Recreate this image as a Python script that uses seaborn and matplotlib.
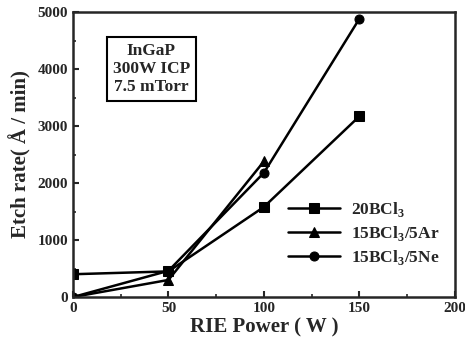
import pandas as pd
import matplotlib.pyplot as plt
import seaborn as sns

# values
power = [0, 50, 100, 150]
bcl3 = [400, 450, 1580, 3170]
bcl3_ar = [0, 300, 2380, None]
bcl3_ne = [0, 460, 2180, 4880]
labels = ["20BCl$_\\mathbf{3}$", "15BCl$_\\mathbf{3}$/5Ar", "15BCl$_\\mathbf{3}$/5Ne"]

rows = []
for lab, vals in zip(labels, [bcl3, bcl3_ar, bcl3_ne]):
    for p, v in zip(power, vals):
        if v is not None:
            rows.append({"power": p, "rate": v, "gas": lab})
df = pd.DataFrame(rows)

sns.set_style("ticks")
plt.rcParams["font.family"] = ["Liberation Serif", "DejaVu Serif"]
plt.rcParams["font.weight"] = "bold"
plt.rcParams["mathtext.fontset"] = "custom"
plt.rcParams["mathtext.bf"] = "Liberation Serif:bold"
plt.rcParams["mathtext.rm"] = "Liberation Serif:bold"

fig = plt.figure(figsize=(4.65, 3.43), dpi=100)
ax = fig.add_axes([0.157, 0.134, 0.821, 0.831])

sns.lineplot(data=df, x="power", y="rate", hue="gas", style="gas",
             markers=["s", "^", "o"], dashes=False, palette=["black"] * 3,
             markersize=6.5, linewidth=1.8, markeredgecolor="black", ax=ax)

ax.set_xlim(0, 200)
ax.set_ylim(0, 5000)
ax.set_xticks([0, 50, 100, 150, 200])
ax.set_yticks([0, 1000, 2000, 3000, 4000, 5000])
ax.set_xticks(range(25, 200, 50), minor=True)
ax.set_yticks(range(500, 5000, 1000), minor=True)
ax.tick_params(direction="in", width=1.5, length=4, labelsize=11)
ax.tick_params(which="minor", direction="in", width=1.2, length=2.5)
for lbl in ax.get_xticklabels() + ax.get_yticklabels():
    lbl.set_fontweight("bold")
for s in ax.spines.values():
    s.set_linewidth(1.8)

ax.set_xlabel("RIE Power ( W )", fontsize=15, fontweight="bold", labelpad=2)
ax.set_ylabel("Etch rate( Å / min)", fontsize=15, fontweight="bold", labelpad=4)

ax.text(0.205, 0.80, "InGaP\n300W ICP\n7.5 mTorr", transform=ax.transAxes,
        ha="center", va="center", fontsize=12.5, fontweight="bold", linespacing=1.15,
        bbox=dict(boxstyle="square,pad=0.35", facecolor="white", edgecolor="black", linewidth=1.5))

leg = ax.legend(loc="lower right", bbox_to_anchor=(1.0, 0.05), frameon=False,
                fontsize=12.5, handlelength=3, labelspacing=0.3, handletextpad=0.6)
for t in leg.get_texts():
    t.set_fontweight("bold")

fig.savefig("out.png", dpi=100)
